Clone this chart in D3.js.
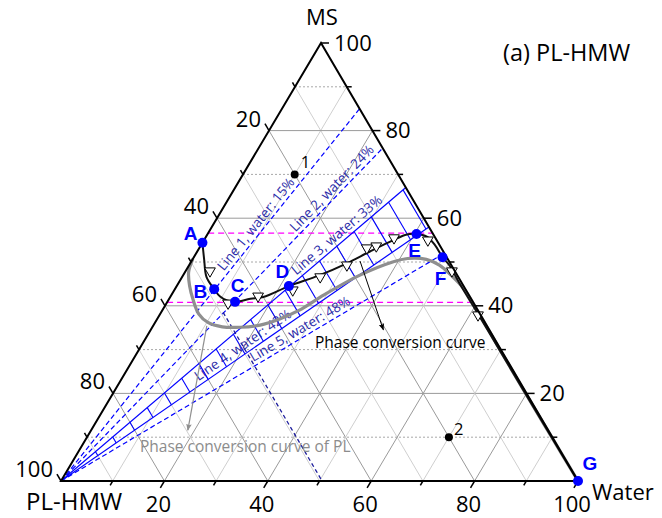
<!DOCTYPE html>
<html><head><meta charset="utf-8">
<script src="https://cdn.jsdelivr.net/npm/d3@7"></script>
<style>body{margin:0;background:#fff}svg{display:block}</style>
</head><body>
<svg id="chart" width="662" height="518"></svg>
<script>
// ---------------- data (Water %, MS %; PL-HMW = 100 - Water - MS) ----------------
const majorTicks = [20, 40, 60, 80, 100];
const minorTicks = [10, 30, 50, 70, 90];
const gridValues = [10, 20, 30, 40, 50, 60, 70, 80, 90];

const pointNames = ["A", "B", "C", "D", "E", "F", "G"];
const pointWater = [0, 7.6, 13.1, 21.7, 40.4, 48.1, 100];
const pointMS    = [54.4, 43.8, 40.9, 44.5, 56.4, 51.1, 0];

const curveWater = [0, 2.3, 4.7, 7.6, 9.6, 11.4, 13.1, 15.7, 18.0, 21.7, 26.4, 30.3, 33.4, 36.6, 38.6, 40.4, 42.7, 45.2, 48.1, 50.4, 55.0, 60, 70, 80, 90, 100];
const curveMS    = [54.4, 50.5, 46.6, 43.8, 42.1, 41.2, 40.9, 41.6, 42.0, 44.5, 47.0, 49.7, 52.4, 55.0, 56.3, 56.4, 55.8, 53.9, 51.1, 49.2, 44.5, 39.6, 29.7, 19.75, 9.85, 0];

const triWater = [4.7, 11.9, 16.9, 22.9, 26.7, 30.5, 32.4, 34.0, 36.5, 43.3, 51.5, 61.6];
const triMS    = [47.95, 40.6, 42.2, 43.6, 46.6, 49.3, 53.2, 53.65, 55.5, 55.0, 47.95, 37.9];

const plWater = [0, 0.7, 2.5, 4.8, 7.5, 10.2, 13.5, 17, 20.6, 23.7, 26.5, 29.5, 34.2, 39.0, 41.5, 45.2, 48.4, 52.2, 55.6, 59.2, 70, 80, 90, 100];
const plMS    = [50.7, 47.7, 44.5, 41.3, 38.1, 36.2, 35.2, 35.1, 35.6, 37.0, 39.0, 42.5, 47.0, 50.0, 50.8, 50.6, 49.3, 46.7, 44.1, 40.7, 29.8, 19.8, 9.9, 0];

const lineNames = ["Line 1", "Line 2", "Line 3", "Line 4", "Line 5"];
const lineWater = [15, 24, 33, 42, 48];          // water share of the solvent
const lineSolid = [false, false, true, true, false];
const bandPL = [0.8, 5, 10, 15, 20, 25, 30, 35, 40, 45, 50, 55, 60, 65, 70, 75, 80, 85, 90];

const guideMS = [56.6, 40.8];

const sampleNames = ["1", "2"];
const sampleWater = [10, 70];
const sampleMS = [70, 10];

const plLineWater = [12, 50.5];  // navy dashed constant-PL line
const plLineMS = [38.5, 0];

const arrowBlackWater = [32.6, 45.0], arrowBlackMS = [50.2, 34.5];
const arrowGrayWater = [10.4, 18.7], arrowGrayMS = [35.4, 11.6];

// ---------------- projection built from d3 scales ----------------
const sx = d3.scaleLinear().domain([0, 100]).range([61, 578]);  // water along base
const sk = d3.scaleLinear().domain([0, 100]).range([0, 260]);   // MS shear
const sy = d3.scaleLinear().domain([0, 100]).range([481, 43]);  // MS height
const P = (w, m) => [sx(w) + sk(m), sy(m)];

const svg = d3.select("#chart");
const FONT = "'Open Sans', sans-serif";

// ---------------- grid ----------------
const grid = svg.append("g");
gridValues.forEach(v => {
  const major = v % 20 === 0;
  const segs = [
    {a: P(0, v), b: P(100 - v, v), horiz: true},   // constant MS
    {a: P(v, 0), b: P(v, 100 - v)},                // constant Water
    {a: P(100 - v, 0), b: P(0, 100 - v)}           // constant PL
  ];
  segs.forEach(s => {
    grid.append("line")
      .attr("x1", s.a[0]).attr("y1", s.a[1]).attr("x2", s.b[0]).attr("y2", s.b[1])
      .attr("stroke", major ? "#9a9a9a" : (s.horiz ? "#a8a8a8" : "#cfcfcf"))
      .attr("stroke-width", 1)
      .attr("stroke-dasharray", (!major && s.horiz) ? "2,2" : null);
  });
});

// ---------------- guide (magenta) lines ----------------
guideMS.forEach(m => {
  const a = P(0, m), b = P(100 - m, m);
  svg.append("line").attr("x1", a[0]).attr("y1", a[1]).attr("x2", b[0]).attr("y2", b[1])
    .attr("stroke", "#ff00ff").attr("stroke-width", 1.3).attr("stroke-dasharray", "6,4");
});

// ---------------- lines from PL-HMW vertex ----------------
const lg = svg.append("g");
lineWater.forEach((r, i) => {
  const a = P(0, 0), b = P(r, 100 - r);
  lg.append("line").attr("x1", a[0]).attr("y1", a[1]).attr("x2", b[0]).attr("y2", b[1])
    .attr("stroke", "#0000ff").attr("stroke-width", 1.2)
    .attr("stroke-dasharray", lineSolid[i] ? null : "5,3");
});
// band cross lines between line 3 and line 4 (constant PL)
bandPL.forEach(p => {
  const s = 100 - p;
  const a = P(lineWater[2] * s / 100, (100 - lineWater[2]) * s / 100);
  const b = P(lineWater[3] * s / 100, (100 - lineWater[3]) * s / 100);
  lg.append("line").attr("x1", a[0]).attr("y1", a[1]).attr("x2", b[0]).attr("y2", b[1])
    .attr("stroke", "#0000ff").attr("stroke-width", 1.1);
});
// navy dashed constant-PL line
{
  const a = P(plLineWater[0], plLineMS[0]), b = P(plLineWater[1], plLineMS[1]);
  lg.append("line").attr("x1", a[0]).attr("y1", a[1]).attr("x2", b[0]).attr("y2", b[1])
    .attr("stroke", "#1c1c9c").attr("stroke-width", 1.3).attr("stroke-dasharray", "4,3");
}
// line labels
const labelAt = [0.556, 0.738, 0.69, 0.38, 0.507];
lineWater.forEach((r, i) => {
  const a = P(0, 0), b = P(r, 100 - r);
  const t = labelAt[i];
  const x = a[0] + (b[0] - a[0]) * t, y = a[1] + (b[1] - a[1]) * t;
  const ang = Math.atan2(b[1] - a[1], b[0] - a[0]) * 180 / Math.PI;
  lg.append("text").attr("transform", `translate(${x},${y}) rotate(${ang})`)
    .attr("dy", -4).attr("font-family", FONT).attr("font-size", 13.5).attr("fill", "#2b2ba8")
    .text(`${lineNames[i]}, water: ${r}%`);
});

// ---------------- curves ----------------
const line = d3.line().x(d => d[0]).y(d => d[1]).curve(d3.curveCatmullRom.alpha(0.5));
svg.append("path").attr("d", line(plWater.map((w, i) => P(w, plMS[i]))))
  .attr("fill", "none").attr("stroke", "#8f8f8f").attr("stroke-width", 3.2);
svg.append("path").attr("d", line(curveWater.map((w, i) => P(w, curveMS[i]))))
  .attr("fill", "none").attr("stroke", "#111").attr("stroke-width", 2);

// triangles
const tri = d3.symbol().type(d3.symbolTriangle).size(50);
triWater.forEach((w, i) => {
  const p = P(w, triMS[i]);
  svg.append("path").attr("d", tri()).attr("transform", `translate(${p[0]},${p[1]}) rotate(180)`)
    .attr("fill", "#fff").attr("stroke", "#000").attr("stroke-width", 1);
});

// ---------------- arrows ----------------
const defs = svg.append("defs");
[["ab", "#000"], ["ag", "#8f8f8f"]].forEach(([id, c]) => {
  defs.append("marker").attr("id", id).attr("viewBox", "0 0 10 10").attr("refX", 9).attr("refY", 5)
    .attr("markerWidth", 7).attr("markerHeight", 9).attr("markerUnits", "userSpaceOnUse").attr("orient", "auto")
    .append("path").attr("d", "M0,1 L10,5 L0,9 L2,5 Z").attr("fill", c);
});
{
  const a = P(arrowBlackWater[0], arrowBlackMS[0]), b = P(arrowBlackWater[1], arrowBlackMS[1]);
  svg.append("line").attr("x1", a[0]).attr("y1", a[1]).attr("x2", b[0]).attr("y2", b[1])
    .attr("stroke", "#000").attr("stroke-width", 1).attr("marker-end", "url(#ab)");
  const c = P(arrowGrayWater[0], arrowGrayMS[0]), d = P(arrowGrayWater[1], arrowGrayMS[1]);
  svg.append("line").attr("x1", c[0]).attr("y1", c[1]).attr("x2", d[0]).attr("y2", d[1])
    .attr("stroke", "#8f8f8f").attr("stroke-width", 1.2).attr("marker-end", "url(#ag)");
}
svg.append("text").attr("x", 315).attr("y", 348).attr("font-family", FONT).attr("font-size", 15.5)
  .attr("fill", "#000").text("Phase conversion curve");
svg.append("text").attr("x", 140).attr("y", 452).attr("font-family", FONT).attr("font-size", 15.5)
  .attr("fill", "#8c8c8c").text("Phase conversion curve of PL");

// ---------------- triangle frame + ticks ----------------
const frame = svg.append("g");
const V = [P(0, 0), P(100, 0), P(0, 100)];
frame.append("path").attr("d", `M${V[0]}L${V[1]}L${V[2]}Z`).attr("fill", "none")
  .attr("stroke", "#000").attr("stroke-width", 2);

const ticksAll = majorTicks.concat(minorTicks);
ticksAll.forEach(v => {
  const len = majorTicks.includes(v) ? 8 : 5;
  let p = P(v, 0);
  frame.append("line").attr("x1", p[0]).attr("y1", p[1]).attr("x2", p[0] - 0.51 * len).attr("y2", p[1] + 0.86 * len)
    .attr("stroke", "#000").attr("stroke-width", 1.5);
  p = P(0, 100 - v);
  frame.append("line").attr("x1", p[0]).attr("y1", p[1]).attr("x2", p[0] - 0.506 * len).attr("y2", p[1] - 0.862 * len)
    .attr("stroke", "#000").attr("stroke-width", 1.5);
  p = P(100 - v, v);
  frame.append("line").attr("x1", p[0]).attr("y1", p[1]).attr("x2", p[0] + len).attr("y2", p[1])
    .attr("stroke", "#000").attr("stroke-width", 1.5);
});
const TS = 22;
majorTicks.forEach(v => {
  let p = P(v, 0);
  frame.append("text").attr("x", p[0] - 6).attr("y", 512).attr("text-anchor", "middle")
    .attr("font-family", FONT).attr("font-size", TS).text(v);
  p = P(0, 100 - v);
  frame.append("text").attr("x", p[0] - 8).attr("y", p[1] - 4).attr("text-anchor", "end")
    .attr("font-family", FONT).attr("font-size", TS).text(v);
  p = P(100 - v, v);
  frame.append("text").attr("x", p[0] + 13).attr("y", p[1] + 7.5).attr("text-anchor", "start")
    .attr("font-family", FONT).attr("font-size", TS).text(v);
});
frame.append("text").attr("x", 322).attr("y", 25).attr("text-anchor", "middle")
  .attr("font-family", FONT).attr("font-size", TS).text("MS");
frame.append("text").attr("x", 26).attr("y", 510).attr("font-family", FONT).attr("font-size", 24).text("PL-HMW");
frame.append("text").attr("x", 592).attr("y", 500).attr("font-family", FONT).attr("font-size", TS).text("Water");
frame.append("text").attr("x", 503).attr("y", 61).attr("font-family", FONT).attr("font-size", 23.5).text("(a) PL-HMW");

// ---------------- sample points ----------------
const sampleOff = [[6, -6], [5, -2]];
sampleWater.forEach((w, i) => {
  const p = P(w, sampleMS[i]);
  svg.append("circle").attr("cx", p[0]).attr("cy", p[1]).attr("r", 4).attr("fill", "#000");
  svg.append("text").attr("x", p[0] + sampleOff[i][0]).attr("y", p[1] + sampleOff[i][1])
    .attr("font-family", FONT).attr("font-size", 16.5).text(sampleNames[i]);
});

// ---------------- key points A-G ----------------
const ptOff = [[-5, -3, "end"], [-7, 9, "end"], [2.5, -10, "middle"], [-6.5, -8, "middle"], [-2, 23, "middle"], [-2, 28, "middle"], [12, -11, "middle"]];
pointWater.forEach((w, i) => {
  const p = P(w, pointMS[i]);
  svg.append("circle").attr("cx", p[0]).attr("cy", p[1]).attr("r", 5).attr("fill", "#0000ff");
  svg.append("text").attr("x", p[0] + ptOff[i][0]).attr("y", p[1] + ptOff[i][1]).attr("text-anchor", ptOff[i][2])
    .attr("font-family", "'Liberation Sans', Arial, sans-serif").attr("font-weight", "bold")
    .attr("font-size", 19).attr("fill", "#0000ff").text(pointNames[i]);
});
</script>
</body></html>
